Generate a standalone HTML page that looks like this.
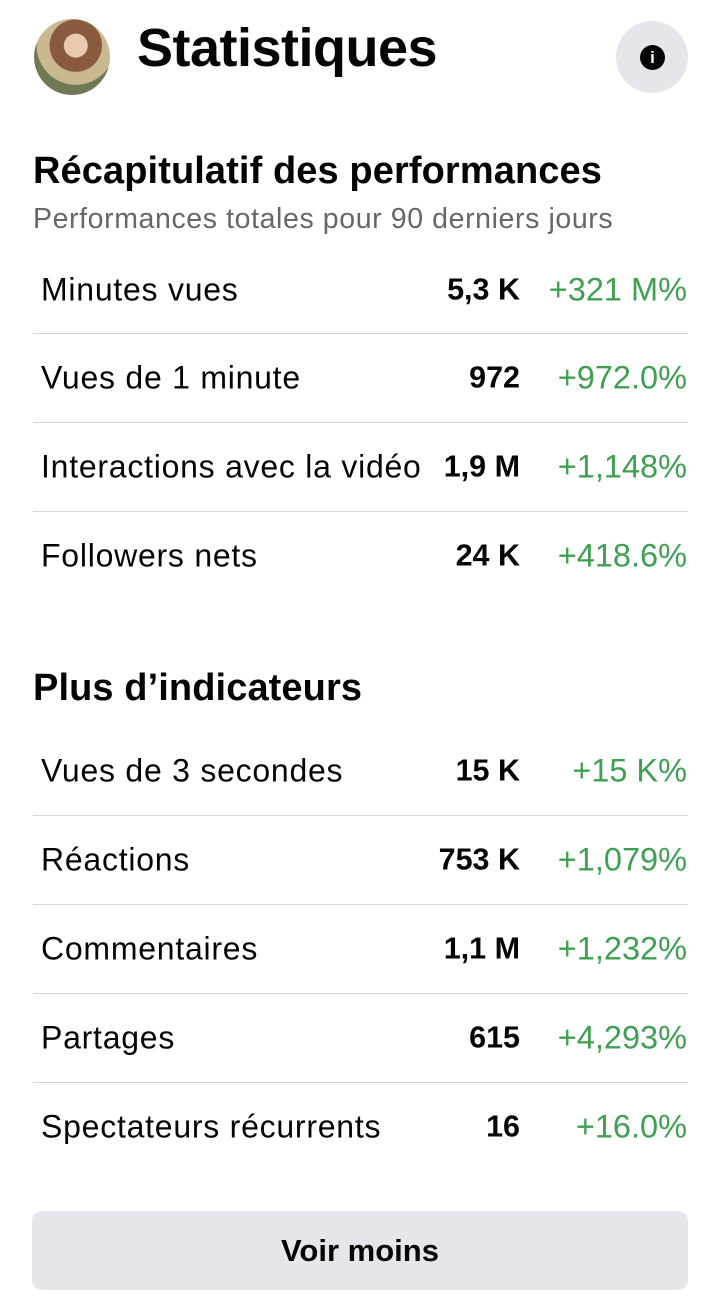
<!DOCTYPE html>
<html><head><meta charset="utf-8"><style>
*{margin:0;padding:0;box-sizing:border-box}
body{width:720px;height:1315px;background:#fff;font-family:"Liberation Sans",sans-serif;color:#050505;position:relative;overflow:hidden}
.a{position:absolute;white-space:nowrap}
.lbl{left:41px;font-size:32px;letter-spacing:0.75px;transform:translateY(-50%)}
.num{right:200px;font-size:30.5px;font-weight:bold;transform:translateY(-50%)}
.pct{right:33px;font-size:32.5px;color:#3f9f52;transform:translateY(-50%)}
.sep{left:33px;width:655px;height:1px;background:#d6d6d6}
</style></head><body>
<div class="a" style="left:34px;top:19px;width:76px;height:76px;border-radius:50%;background:radial-gradient(circle at 55% 35%,#e9c9b0 0 18%,#8a5a3e 19% 40%,#c9b890 41% 60%,#6f7a55 61%)"></div>
<div class="a" style="left:137px;top:17px;font-size:54px;font-weight:bold;letter-spacing:-0.5px">Statistiques</div>
<div class="a" style="left:616px;top:21px;width:72px;height:72px;border-radius:50%;background:#e4e6eb"></div>
<div class="a" style="left:640px;top:45px;width:25px;height:25px;border-radius:50%;background:#050505;color:#fff;font-size:17px;font-weight:bold;text-align:center;line-height:25px">i</div>
<div class="a" style="left:33px;top:150px;font-size:38px;font-weight:bold;letter-spacing:0.1px">Récapitulatif des performances</div>
<div class="a" style="left:33px;top:203px;font-size:28.5px;letter-spacing:0.6px;color:#65676b">Performances totales pour 90 derniers jours</div>

<div class="a lbl" style="top:290px">Minutes vues</div><div class="a num" style="top:290px">5,3 K</div><div class="a pct" style="top:290px">+321 M%</div>
<div class="a sep" style="top:333px"></div>
<div class="a lbl" style="top:378px">Vues de 1 minute</div><div class="a num" style="top:378px">972</div><div class="a pct" style="top:378px">+972.0%</div>
<div class="a sep" style="top:422px"></div>
<div class="a lbl" style="top:467px">Interactions avec la vidéo</div><div class="a num" style="top:467px">1,9 M</div><div class="a pct" style="top:467px">+1,148%</div>
<div class="a sep" style="top:511px"></div>
<div class="a lbl" style="top:556px">Followers nets</div><div class="a num" style="top:556px">24 K</div><div class="a pct" style="top:556px">+418.6%</div>

<div class="a" style="left:33px;top:667px;font-size:38px;font-weight:bold;letter-spacing:0.1px">Plus d’indicateurs</div>

<div class="a lbl" style="top:771px">Vues de 3 secondes</div><div class="a num" style="top:771px">15 K</div><div class="a pct" style="top:771px">+15 K%</div>
<div class="a sep" style="top:815px"></div>
<div class="a lbl" style="top:860px">Réactions</div><div class="a num" style="top:860px">753 K</div><div class="a pct" style="top:860px">+1,079%</div>
<div class="a sep" style="top:904px"></div>
<div class="a lbl" style="top:949px">Commentaires</div><div class="a num" style="top:949px">1,1 M</div><div class="a pct" style="top:949px">+1,232%</div>
<div class="a sep" style="top:993px"></div>
<div class="a lbl" style="top:1038px">Partages</div><div class="a num" style="top:1038px">615</div><div class="a pct" style="top:1038px">+4,293%</div>
<div class="a sep" style="top:1082px"></div>
<div class="a lbl" style="top:1127px">Spectateurs récurrents</div><div class="a num" style="top:1127px">16</div><div class="a pct" style="top:1127px">+16.0%</div>

<div class="a" style="left:32px;top:1211px;width:656px;height:79px;border-radius:10px;background:#e4e6eb;text-align:center;line-height:79px;font-size:31px;font-weight:bold;color:#050505">Voir moins</div>
</body></html>
